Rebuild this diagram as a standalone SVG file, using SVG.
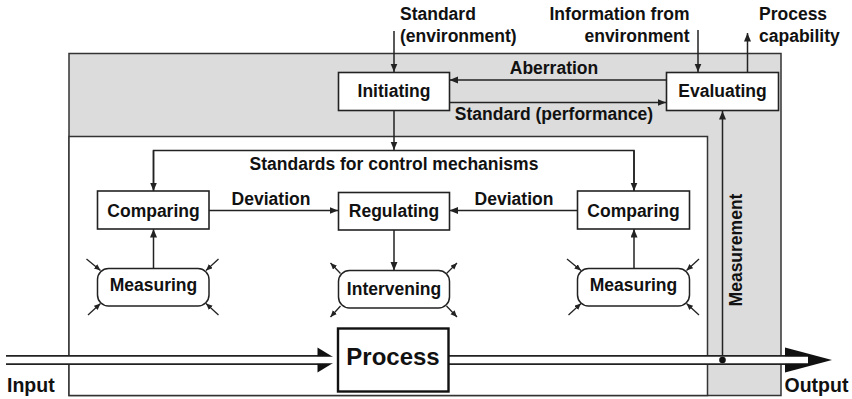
<svg xmlns="http://www.w3.org/2000/svg" width="852" height="399" viewBox="0 0 852 399">
  <style>
    .lbl { font-family: "Liberation Sans", Arial, Helvetica, sans-serif; font-weight: bold; font-size: 17.5px; fill: #111; }
    .mid { text-anchor: middle; }
    .end { text-anchor: end; }
    .big { font-size: 24px; }
    .io { font-size: 19.5px; }
    .box { fill: #fff; stroke: #222; stroke-width: 1.6; }
    .pbox { fill: #fff; stroke: #111; stroke-width: 2.4; }
    .rbox { fill: #fff; stroke: #222; stroke-width: 1.5; }
    .wire { fill: none; stroke: #222; stroke-width: 1.5; }
    .tick { fill: none; stroke: #222; stroke-width: 1.3; }
    .frame { stroke: #333; stroke-width: 1.5; }
  </style>
  <defs>
    <marker id="arr" markerUnits="userSpaceOnUse" markerWidth="9" markerHeight="8" refX="8.5" refY="3.5" orient="auto">
      <path d="M0,0 L8.5,3.5 L0,7 z" fill="#222"/>
    </marker>
    <marker id="arrs" markerUnits="userSpaceOnUse" markerWidth="7" markerHeight="6" refX="6.5" refY="2.8" orient="auto">
      <path d="M0,0 L6.5,2.8 L0,5.6 z" fill="#222"/>
    </marker>
  </defs>

  <rect width="852" height="399" fill="#fff"/>

  <!-- control levels: outer (evaluation) and inner (operational) -->
  <rect class="frame" x="69" y="53.5" width="712" height="342" fill="#dcdcdc"/>
  <rect class="frame" x="69" y="136.5" width="638.5" height="259" fill="#fff"/>

  <!-- connectors -->
  <g id="connectors">
    <path class="wire" d="M394,31 V72" marker-end="url(#arr)"/>
    <path class="wire" d="M698,30 V72" marker-end="url(#arr)"/>
    <path class="wire" d="M747.5,72.5 V33" marker-end="url(#arr)"/>
    <path class="wire" d="M666.5,80 H449.5" marker-end="url(#arr)"/>
    <path class="wire" d="M449.5,102.5 H666" marker-end="url(#arr)"/>
    <path class="wire" d="M394,110.5 V150" marker-end="url(#arr)"/>
    <path class="wire" d="M153.5,191 V150.5 H634 V191"/>
    <path class="wire" d="M153.5,150.5 V191" marker-end="url(#arr)"/>
    <path class="wire" d="M634,150.5 V191" marker-end="url(#arr)"/>
    <path class="wire" d="M209,210.5 H338" marker-end="url(#arr)"/>
    <path class="wire" d="M577.5,210.5 H449.5" marker-end="url(#arr)"/>
    <path class="wire" d="M394,230 V270.5" marker-end="url(#arr)"/>
    <path class="wire" d="M153.5,268.5 V229" marker-end="url(#arr)"/>
    <path class="wire" d="M634,268.5 V229" marker-end="url(#arr)"/>
    <path class="wire" d="M722.5,360 V111" marker-end="url(#arr)"/>

    <!-- disturbances into the measuring points -->
    <path class="tick" d="M86.5,259 L100.5,270.5" marker-end="url(#arrs)"/>
    <path class="tick" d="M88,315 L100.5,303.5" marker-end="url(#arrs)"/>
    <path class="tick" d="M218.5,259 L206,270.5" marker-end="url(#arrs)"/>
    <path class="tick" d="M218.5,315 L206,303.5" marker-end="url(#arrs)"/>
    <path class="tick" d="M567,259 L581,270.5" marker-end="url(#arrs)"/>
    <path class="tick" d="M568.5,315 L581,303.5" marker-end="url(#arrs)"/>
    <path class="tick" d="M699,259 L686.5,270.5" marker-end="url(#arrs)"/>
    <path class="tick" d="M699,315 L686.5,303.5" marker-end="url(#arrs)"/>
    <!-- interventions out of the regulator -->
    <path class="tick" d="M340.5,273.5 L330.5,263" marker-end="url(#arrs)"/>
    <path class="tick" d="M340.5,306 L330.5,317" marker-end="url(#arrs)"/>
    <path class="tick" d="M446.5,273.5 L457,263" marker-end="url(#arrs)"/>
    <path class="tick" d="M446.5,306 L457,317" marker-end="url(#arrs)"/>

    <!-- input and output flow (hollow double line) -->
    <line x1="6" y1="360" x2="330" y2="360" stroke="#222" stroke-width="10"/>
    <polygon points="317.5,347.5 338,360 317.5,372.5" fill="#111"/>
    <line x1="6" y1="360" x2="338" y2="360" stroke="#fff" stroke-width="6.6"/>
    <line x1="449" y1="360" x2="800" y2="360" stroke="#222" stroke-width="10"/>
    <polygon points="785,347.5 832,360 785,372.5" fill="#111"/>
    <line x1="449" y1="360" x2="808" y2="360" stroke="#fff" stroke-width="6.6"/>
    <circle cx="722.5" cy="360" r="3.3" fill="#111"/>
  </g>

  <!-- free labels -->
  <text class="lbl" x="400" y="20">Standard</text>
  <text class="lbl" x="400" y="41.5">(environment)</text>
  <text class="lbl end" x="689.5" y="20">Information from</text>
  <text class="lbl end" x="689.5" y="41.5">environment</text>
  <text class="lbl" x="759" y="20">Process</text>
  <text class="lbl" x="759" y="41.5">capability</text>
  <text class="lbl mid" x="554" y="73.5">Aberration</text>
  <text class="lbl mid" x="554" y="120">Standard (performance)</text>
  <text class="lbl mid" x="394" y="170">Standards for control mechanisms</text>
  <text class="lbl mid" x="271" y="205">Deviation</text>
  <text class="lbl mid" x="514" y="205">Deviation</text>
  <text class="lbl mid" transform="translate(741.5,250) rotate(-90)">Measurement</text>
  <text class="lbl io" x="7" y="391.5">Input</text>
  <text class="lbl io" x="784.5" y="391.5">Output</text>

  <!-- nodes -->
  <g id="initiating">
    <rect class="box" x="338.5" y="72.5" width="111" height="38"/>
    <text class="lbl mid" x="394" y="97">Initiating</text>
  </g>
  <g id="evaluating">
    <rect class="box" x="666.5" y="72.5" width="112" height="38"/>
    <text class="lbl mid" x="722.5" y="97">Evaluating</text>
  </g>
  <g id="comparing-left">
    <rect class="box" x="97.5" y="191" width="111.5" height="38"/>
    <text class="lbl mid" x="153.5" y="216.5">Comparing</text>
  </g>
  <g id="regulating">
    <rect class="box" x="338.5" y="192.5" width="111" height="37.5"/>
    <text class="lbl mid" x="394" y="217">Regulating</text>
  </g>
  <g id="comparing-right">
    <rect class="box" x="577.5" y="191" width="112" height="38"/>
    <text class="lbl mid" x="633.5" y="216.5">Comparing</text>
  </g>
  <g id="measuring-left">
    <rect class="rbox" x="97.5" y="268.5" width="111.5" height="37.5" rx="11"/>
    <text class="lbl mid" x="153.5" y="291">Measuring</text>
  </g>
  <g id="intervening">
    <rect class="rbox" x="338.5" y="270.5" width="111" height="37.5" rx="11"/>
    <text class="lbl mid" x="394" y="295">Intervening</text>
  </g>
  <g id="measuring-right">
    <rect class="rbox" x="577.5" y="268.5" width="112" height="37.5" rx="11"/>
    <text class="lbl mid" x="633.5" y="291">Measuring</text>
  </g>
  <g id="process">
    <rect class="pbox" x="338" y="328.5" width="110.5" height="63"/>
    <text class="lbl mid big" x="393" y="365">Process</text>
  </g>
</svg>
